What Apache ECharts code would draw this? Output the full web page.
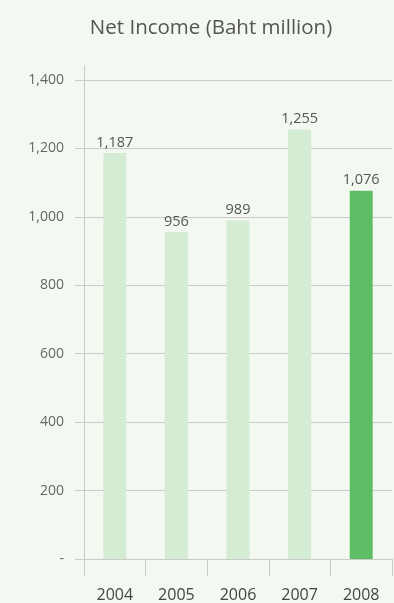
<!DOCTYPE html>
<html>
<head>
<meta charset="utf-8">
<script src="https://cdn.jsdelivr.net/npm/echarts@6/dist/echarts.min.js"></script>
<style>
  html, body { margin: 0; padding: 0; background: #f3f8f1; }
  #chart { width: 394px; height: 603px; }
</style>
</head>
<body>
<div id="chart"></div>
<script>
// Net income per year, Baht million
const years = ['2004', '2005', '2006', '2007', '2008'];
const netIncome = [1187, 956, 989, 1255, 1076];
const highlightYear = '2008';

const FONT = '"Open Sans", "Noto Sans", sans-serif';
const GRID_COLOR = '#c9cbc9';
const LIGHT_BAR = '#d4ebd4';
const DARK_BAR = '#5fbd66';

function fmtTick(v) {
  return v === 0 ? '-' : v.toLocaleString('en-US');
}

const chart = echarts.init(document.getElementById('chart'), null, { renderer: 'canvas' });

chart.setOption({
  backgroundColor: '#f3f8f1',
  animation: false,
  title: {
    text: 'Net Income (Baht million)',
    left: 206,
    textAlign: 'center',
    top: 13,
    textStyle: { fontFamily: FONT, fontSize: 20.5, fontWeight: 'normal', color: '#555555' }
  },
  grid: [
    { left: 84, right: 2, top: 80, bottom: 43 },
    { left: 84, right: 2, top: 66, bottom: 43 }
  ],
  xAxis: [
    {
      type: 'category',
      gridIndex: 0,
      data: years,
      axisLine: { show: false },
      axisTick: { show: true, length: 17, alignWithLabel: false, lineStyle: { color: GRID_COLOR, width: 1 } },
      axisLabel: { margin: 28, fontFamily: FONT, fontSize: 16, color: '#444444' }
    },
    { type: 'category', gridIndex: 1, show: false, data: years }
  ],
  yAxis: [
    {
      type: 'value',
      gridIndex: 0,
      min: 0,
      max: 1400,
      interval: 200,
      axisLine: { show: false },
      axisTick: { show: true, length: 9, lineStyle: { color: GRID_COLOR, width: 1 } },
      splitLine: { show: true, lineStyle: { color: GRID_COLOR, width: 1 } },
      axisLabel: { margin: 20, fontFamily: FONT, fontSize: 14, color: '#666666', formatter: fmtTick }
    },
    {
      type: 'value',
      gridIndex: 1,
      axisLine: { show: true, lineStyle: { color: GRID_COLOR, width: 1 } },
      axisTick: { show: false },
      axisLabel: { show: false },
      splitLine: { show: false }
    }
  ],
  series: [
    {
      type: 'bar',
      xAxisIndex: 0,
      yAxisIndex: 0,
      barWidth: 23,
      data: netIncome.map((v, i) => ({
        value: v,
        itemStyle: { color: years[i] === highlightYear ? DARK_BAR : LIGHT_BAR }
      })),
      label: {
        show: true,
        position: 'top',
        distance: 3,
        fontFamily: FONT,
        fontSize: 14.5,
        color: '#555555',
        formatter: p => p.value.toLocaleString('en-US')
      }
    }
  ]
});
</script>
</body>
</html>
